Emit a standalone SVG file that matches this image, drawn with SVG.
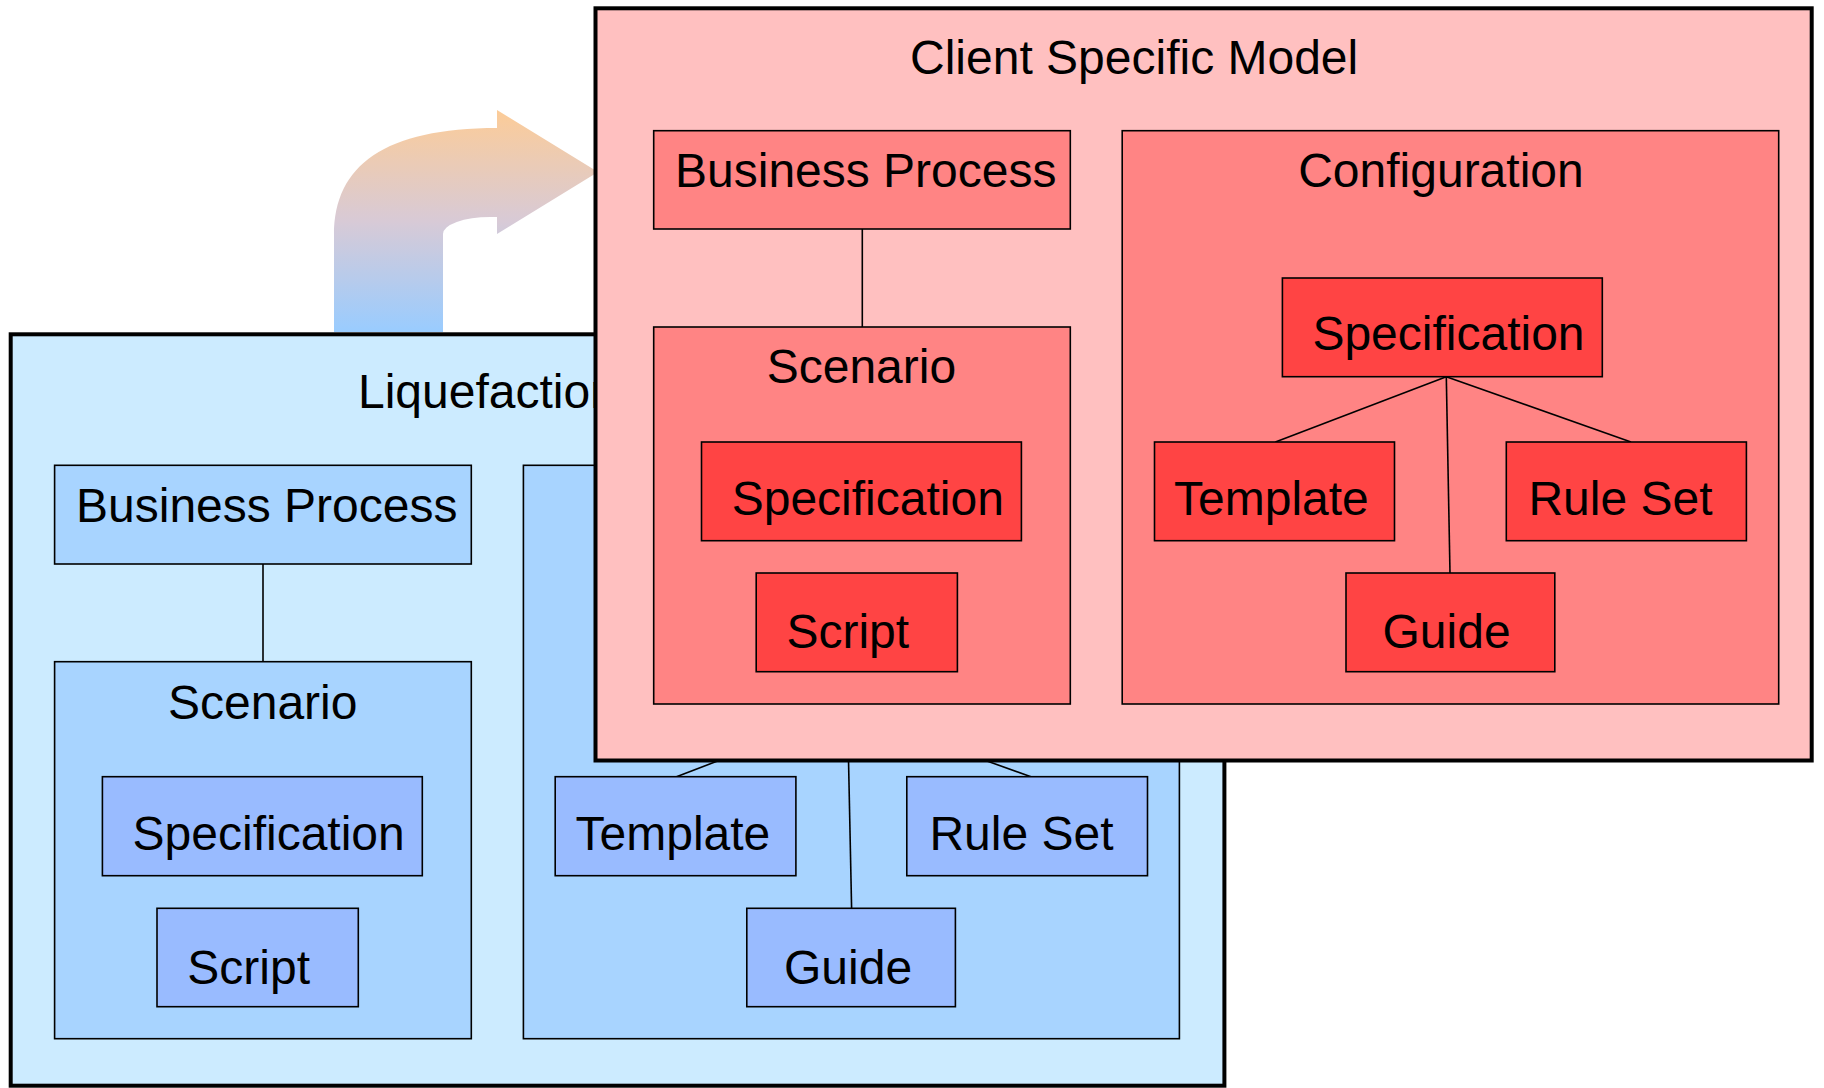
<svg xmlns="http://www.w3.org/2000/svg" width="1824" height="1088" viewBox="0 0 1824 1088">
<style>
text{font-family:"Liberation Sans",Arial,Helvetica,sans-serif;font-size:48px;fill:#000}
.outer{stroke:#000;stroke-width:4}
.box{stroke:#000;stroke-width:1.6}
.bo{fill:#CCEBFF}.bc{fill:#A8D4FF}.bl{fill:#99BBFF}
.ro{fill:#FFC0C0}.rc{fill:#FF8484}.rl{fill:#FF4444}
.conn line{stroke:#000;stroke-width:1.6}
</style>
<defs>
<linearGradient id="ag" x1="0" y1="110" x2="0" y2="332" gradientUnits="userSpaceOnUse">
<stop offset="0" stop-color="#FCCC98"/>
<stop offset="0.5" stop-color="#D8CAD6"/>
<stop offset="1" stop-color="#99CCFF"/>
</linearGradient>
</defs>
<rect width="1824" height="1088" fill="#fff"/>
<g id="transition-arrow">
<path d="M334 332 V235 C334 165 385 128 497 128 V110 L598 172 L497 234 V217 H490 A47 17 0 0 0 443 234 V332 Z" fill="url(#ag)"/>
</g>
<g id="liquefaction">
<rect class="outer bo" x="10.7" y="334.3" width="1213.7" height="751.4"/>
<text x="358" y="408">Liquefaction</text>
</g>
<g id="liq-business-process">
<rect class="box bc" x="54.6" y="465.3" width="416.7" height="98.7"/>
<text x="76" y="521.5">Business Process</text>
</g>
<g id="liq-scenario">
<rect class="box bc" x="54.6" y="661.7" width="416.7" height="377"/>
<text x="168" y="719">Scenario</text>
</g>
<g id="liq-scenario-specification">
<rect class="box bl" x="102.4" y="776.7" width="319.9" height="99"/>
<text x="132.6" y="850">Specification</text>
</g>
<g id="liq-scenario-script">
<rect class="box bl" x="157" y="908.3" width="201.3" height="98.4"/>
<text x="187.3" y="983.5">Script</text>
</g>
<g id="liq-configuration">
<rect class="box bc" x="523.4" y="465.3" width="656" height="573.4"/>
</g>
<g id="liq-connectors" class="conn">
<line x1="263" y1="564" x2="263" y2="661.7"/>
<line x1="847.5" y1="711.3" x2="676.5" y2="776.7"/>
<line x1="847.5" y1="711.3" x2="1031" y2="776.7"/>
<line x1="847.5" y1="711.3" x2="851.6" y2="908.3"/>
</g>
<g id="liq-template">
<rect class="box bl" x="555.2" y="776.7" width="240.7" height="99"/>
<text x="575.5" y="850">Template</text>
</g>
<g id="liq-rule-set">
<rect class="box bl" x="906.8" y="776.7" width="240.7" height="99"/>
<text x="929.4" y="850">Rule Set</text>
</g>
<g id="liq-guide">
<rect class="box bl" x="746.8" y="908.3" width="208.6" height="98.4"/>
<text x="784" y="984">Guide</text>
</g>
<g id="client-specific-model">
<rect class="outer ro" x="595.5" y="8.3" width="1216.2" height="752.2"/>
<text x="910" y="74">Client Specific Model</text>
</g>
<g id="csm-business-process">
<rect class="box rc" x="653.7" y="130.7" width="416.6" height="98.3"/>
<text x="675" y="187.3">Business Process</text>
</g>
<g id="csm-scenario">
<rect class="box rc" x="653.7" y="327" width="416.6" height="377"/>
<text x="766.7" y="383.3">Scenario</text>
</g>
<g id="csm-scenario-specification">
<rect class="box rl" x="701.5" y="442" width="319.9" height="98.7"/>
<text x="731.7" y="514.5">Specification</text>
</g>
<g id="csm-scenario-script">
<rect class="box rl" x="756.2" y="573" width="201.2" height="98.7"/>
<text x="786.4" y="647.5">Script</text>
</g>
<g id="csm-configuration">
<rect class="box rc" x="1122.2" y="130.7" width="656.5" height="573.3"/>
<text x="1298.2" y="187.3">Configuration</text>
</g>
<g id="csm-connectors" class="conn">
<line x1="862.3" y1="229" x2="862.3" y2="327"/>
<line x1="1446.3" y1="376.7" x2="1275.4" y2="442"/>
<line x1="1446.3" y1="376.7" x2="1631" y2="442"/>
<line x1="1446.3" y1="376.7" x2="1450" y2="573"/>
</g>
<g id="csm-configuration-specification">
<rect class="box rl" x="1282.4" y="278" width="319.9" height="98.7"/>
<text x="1312.4" y="350">Specification</text>
</g>
<g id="csm-template">
<rect class="box rl" x="1154.5" y="442" width="240" height="98.7"/>
<text x="1174" y="515">Template</text>
</g>
<g id="csm-rule-set">
<rect class="box rl" x="1506.3" y="442" width="240.1" height="98.7"/>
<text x="1528.4" y="515">Rule Set</text>
</g>
<g id="csm-guide">
<rect class="box rl" x="1346" y="573" width="208.8" height="98.7"/>
<text x="1382.5" y="648.3">Guide</text>
</g>
</svg>
